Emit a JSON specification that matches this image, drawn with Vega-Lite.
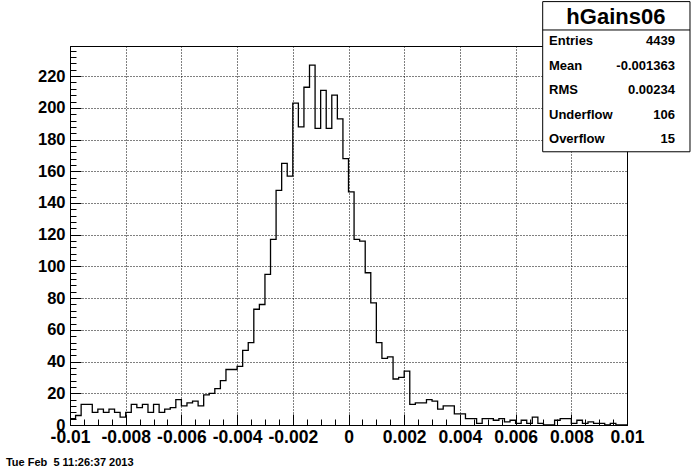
{
  "$schema": "https://vega.github.io/schema/vega-lite/v6.json",
  "width": 557,
  "height": 379,
  "autosize": {"type": "none"},
  "padding": {"left": 70, "top": 46, "right": 69, "bottom": 47},
  "background": "white",
  "config": {"view": {"stroke": "black", "strokeWidth": 1}, "font": "Liberation Sans", "axis": {"labelOverlap": false}},
  "datasets": {
    "hist": [
      {"x": -0.01, "count": 4}, {"x": -0.0098, "count": 6}, {"x": -0.0096, "count": 13}, {"x": -0.0094, "count": 13},
      {"x": -0.0092, "count": 8}, {"x": -0.009, "count": 10}, {"x": -0.0088, "count": 8}, {"x": -0.0086, "count": 10},
      {"x": -0.0084, "count": 8}, {"x": -0.0082, "count": 5}, {"x": -0.008, "count": 8}, {"x": -0.0078, "count": 13},
      {"x": -0.0076, "count": 11}, {"x": -0.0074, "count": 13}, {"x": -0.0072, "count": 8}, {"x": -0.007, "count": 13},
      {"x": -0.0068, "count": 8}, {"x": -0.0066, "count": 10}, {"x": -0.0064, "count": 11}, {"x": -0.0062, "count": 16},
      {"x": -0.006, "count": 12}, {"x": -0.0058, "count": 14}, {"x": -0.0056, "count": 15}, {"x": -0.0054, "count": 12},
      {"x": -0.0052, "count": 19}, {"x": -0.005, "count": 20}, {"x": -0.0048, "count": 23}, {"x": -0.0046, "count": 28},
      {"x": -0.0044, "count": 35}, {"x": -0.0042, "count": 35}, {"x": -0.004, "count": 37}, {"x": -0.0038, "count": 47},
      {"x": -0.0036, "count": 52}, {"x": -0.0034, "count": 73}, {"x": -0.0032, "count": 76}, {"x": -0.003, "count": 95},
      {"x": -0.0028, "count": 117}, {"x": -0.0026, "count": 148}, {"x": -0.0024, "count": 165}, {"x": -0.0022, "count": 157},
      {"x": -0.002, "count": 203}, {"x": -0.0018, "count": 188}, {"x": -0.0016, "count": 213}, {"x": -0.0014, "count": 227},
      {"x": -0.0012, "count": 187}, {"x": -0.001, "count": 211}, {"x": -0.0008, "count": 187}, {"x": -0.0006, "count": 208},
      {"x": -0.0004, "count": 193}, {"x": -0.0002, "count": 168}, {"x": 0, "count": 147}, {"x": 0.0002, "count": 117},
      {"x": 0.0004, "count": 116}, {"x": 0.0006, "count": 96}, {"x": 0.0008, "count": 77}, {"x": 0.001, "count": 52},
      {"x": 0.0012, "count": 42}, {"x": 0.0014, "count": 43}, {"x": 0.0016, "count": 29}, {"x": 0.0018, "count": 30},
      {"x": 0.002, "count": 34}, {"x": 0.0022, "count": 13}, {"x": 0.0024, "count": 14}, {"x": 0.0026, "count": 14},
      {"x": 0.0028, "count": 16}, {"x": 0.003, "count": 15}, {"x": 0.0032, "count": 10}, {"x": 0.0034, "count": 12},
      {"x": 0.0036, "count": 12}, {"x": 0.0038, "count": 7}, {"x": 0.004, "count": 7}, {"x": 0.0042, "count": 4},
      {"x": 0.0044, "count": 4}, {"x": 0.0046, "count": 1}, {"x": 0.0048, "count": 4}, {"x": 0.005, "count": 4},
      {"x": 0.0052, "count": 3}, {"x": 0.0054, "count": 4}, {"x": 0.0056, "count": 2}, {"x": 0.0058, "count": 3},
      {"x": 0.006, "count": 1}, {"x": 0.0062, "count": 3}, {"x": 0.0064, "count": 1}, {"x": 0.0066, "count": 5},
      {"x": 0.0068, "count": 1}, {"x": 0.007, "count": 0}, {"x": 0.0072, "count": 0}, {"x": 0.0074, "count": 3},
      {"x": 0.0076, "count": 4}, {"x": 0.0078, "count": 4}, {"x": 0.008, "count": 1}, {"x": 0.0082, "count": 3},
      {"x": 0.0084, "count": 1}, {"x": 0.0086, "count": 2}, {"x": 0.0088, "count": 1}, {"x": 0.009, "count": 1},
      {"x": 0.0092, "count": 0}, {"x": 0.0094, "count": 1}, {"x": 0.0096, "count": 0}, {"x": 0.0098, "count": 0},
      {"x": 0.01, "count": 0}
    ],
    "stats": [
      {"name": "Entries", "value": "4439"},
      {"name": "Mean", "value": "-0.001363"},
      {"name": "RMS", "value": "0.00234"},
      {"name": "Underflow", "value": "106"},
      {"name": "Overflow", "value": "15"}
    ]
  },
  "layer": [
    {
      "data": {"name": "hist"},
      "mark": {"type": "line", "interpolate": "step-after", "color": "black", "strokeWidth": 1.3},
      "encoding": {
        "x": {
          "field": "x", "type": "quantitative",
          "scale": {"domain": [-0.01, 0.01], "nice": false, "zero": false},
          "axis": {
            "title": null,
            "values": [-0.01, -0.0095, -0.009, -0.0085, -0.008, -0.0075, -0.007, -0.0065, -0.006, -0.0055, -0.005, -0.0045, -0.004, -0.0035, -0.003, -0.0025, -0.002, -0.0015, -0.001, -0.0005, 0, 0.0005, 0.001, 0.0015, 0.002, 0.0025, 0.003, 0.0035, 0.004, 0.0045, 0.005, 0.0055, 0.006, 0.0065, 0.007, 0.0075, 0.008, 0.0085, 0.009, 0.0095, 0.01],
            "labelExpr": "abs(datum.value*500 - round(datum.value*500)) < 0.000001 ? '' + datum.value : ''",
            "labelFont": "Liberation Sans", "labelFontWeight": "bold", "labelFontSize": 17.5, "labelColor": "black",
            "labelOverlap": false, "labelFlush": false, "labelPadding": 14, "labelBound": false,
            "domainColor": "black",
            "tickColor": "black",
            "tickSize": {"condition": {"test": "abs(datum.value*500 - round(datum.value*500)) < 0.000001", "value": -11}, "value": -6},
            "grid": true, "gridColor": "black", "gridDash": [1, 2],
            "gridOpacity": {"condition": {"test": "abs(datum.value*500 - round(datum.value*500)) < 0.000001", "value": 1}, "value": 0}
          }
        },
        "y": {
          "field": "count", "type": "quantitative",
          "scale": {"domain": [0, 239], "nice": false},
          "axis": {
            "title": null,
            "values": [0, 4, 8, 12, 16, 20, 24, 28, 32, 36, 40, 44, 48, 52, 56, 60, 64, 68, 72, 76, 80, 84, 88, 92, 96, 100, 104, 108, 112, 116, 120, 124, 128, 132, 136, 140, 144, 148, 152, 156, 160, 164, 168, 172, 176, 180, 184, 188, 192, 196, 200, 204, 208, 212, 216, 220, 224, 228, 232, 236],
            "labelExpr": "datum.value % 20 == 0 ? '' + datum.value : ''",
            "labelFont": "Liberation Sans", "labelFontWeight": "bold", "labelFontSize": 16.5, "labelColor": "black",
            "labelOverlap": false, "labelFlush": false, "labelPadding": 16, "labelBound": false,
            "domainColor": "black",
            "tickColor": "black",
            "tickSize": {"condition": {"test": "datum.value % 20 == 0", "value": -11}, "value": -6},
            "grid": true, "gridColor": "black", "gridDash": [1, 2],
            "gridOpacity": {"condition": {"test": "datum.value % 20 == 0", "value": 1}, "value": 0}
          }
        }
      }
    },
    {
      "layer": [
        {
          "data": {"values": [{"t": "box"}]},
          "mark": {"type": "rect", "fill": "white", "stroke": "black", "strokeWidth": 1},
          "encoding": {
            "x": {"datum": 0.006973, "type": "quantitative", "scale": {"domain": [-0.01, 0.01], "nice": false, "zero": false}, "axis": null},
            "x2": {"datum": 0.012262},
            "y": {"datum": 267, "type": "quantitative", "scale": {"domain": [0, 239], "nice": false}, "axis": null},
            "y2": {"datum": 172.3}
          }
        },
        {
          "data": {"values": [{"t": "sep"}]},
          "mark": {"type": "rule", "color": "black", "strokeWidth": 1},
          "encoding": {
            "x": {"datum": 0.006973, "type": "quantitative", "axis": null},
            "x2": {"datum": 0.012262},
            "y": {"datum": 249.1, "type": "quantitative", "axis": null}
          }
        },
        {
          "data": {"values": [{"title": "hGains06"}]},
          "mark": {"type": "text", "font": "Liberation Sans", "fontWeight": "bold", "fontSize": 22, "align": "center", "baseline": "middle", "color": "black"},
          "encoding": {
            "x": {"datum": 0.0096, "type": "quantitative", "axis": null},
            "y": {"datum": 257.5, "type": "quantitative", "axis": null},
            "text": {"field": "title"}
          }
        },
        {
          "data": {"values": [{"date": "Tue Feb \u00a05 11:26:37 2013"}]},
          "mark": {"type": "text", "font": "Liberation Sans", "fontWeight": "bold", "fontSize": 11, "align": "left", "baseline": "middle", "color": "black"},
          "encoding": {
            "x": {"datum": -0.0123, "type": "quantitative", "axis": null},
            "y": {"datum": -24, "type": "quantitative", "axis": null},
            "text": {"field": "date"}
          }
        }
      ]
    },
    {
      "data": {"name": "stats"},
      "layer": [
        {
          "mark": {"type": "text", "font": "Liberation Sans", "fontWeight": "bold", "fontSize": 13, "align": "left", "baseline": "middle", "color": "black"},
          "encoding": {
            "x": {"datum": 0.0072, "type": "quantitative", "scale": {"domain": [-0.01, 0.01], "nice": false, "zero": false}, "axis": null},
            "y": {"field": "name", "type": "nominal", "sort": null, "scale": {"type": "point", "domain": ["Entries", "Mean", "RMS", "Underflow", "Overflow"], "range": [-5, 93.3], "padding": 0}, "axis": null},
            "text": {"field": "name"}
          }
        },
        {
          "mark": {"type": "text", "font": "Liberation Sans", "fontWeight": "bold", "fontSize": 13, "align": "right", "baseline": "middle", "color": "black"},
          "encoding": {
            "x": {"datum": 0.01172, "type": "quantitative", "axis": null},
            "y": {"field": "name", "type": "nominal", "sort": null, "axis": null},
            "text": {"field": "value"}
          }
        }
      ]
    }
  ],
  "resolve": {"scale": {"x": "independent", "y": "independent"}}
}
